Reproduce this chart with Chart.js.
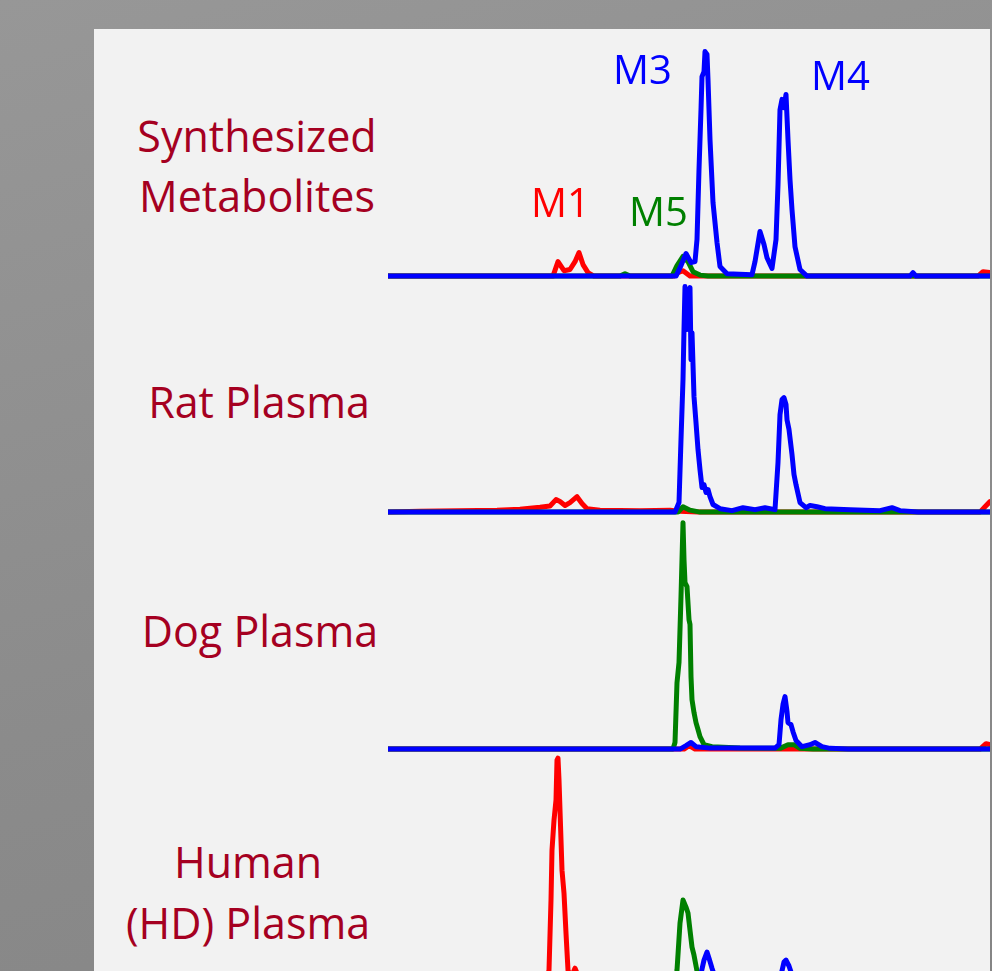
<!DOCTYPE html>
<html>
<head>
<meta charset="utf-8">
<title>Metabolite chromatograms</title>
<script src="https://cdn.jsdelivr.net/npm/chart.js@4.4.1/dist/chart.umd.min.js"></script>
<style>
    html, body { margin: 0; padding: 0; width: 992px; height: 971px; overflow: hidden; }
    body { position: relative; background: linear-gradient(165deg, #979797 0%, #8b8b8b 60%, #858585 100%); font-family: "Open Sans", sans-serif; }
    #panel { position: absolute; left: 94px; top: 29px; width: 896px; height: 960px; background: #f2f2f2; }
    canvas { position: absolute; left: 388px; }
    .sample { position: absolute; width: 274px; text-align: center; color: #a50021; font-size: 43px; line-height: 60px; white-space: nowrap; }
    .peak { position: absolute; font-size: 40px; line-height: 40px; white-space: nowrap; }
</style>
</head>
<body>
<div id="panel"></div>

<script>
// retention time (min) vs relative intensity, one array per trace
const synthRed = [[0,0],[3.30,0],[3.40,5.9],[3.52,2.2],[3.64,2.7],[3.74,5.9],[3.82,9.6],[3.90,4.7],[4.00,1.4],[4.12,0],[5.72,0],[5.80,1.4],[5.90,2.2],[6.04,0],[11.80,0],[11.90,1.8],[12.04,1.5]];
const synthGreen = [[0,0],[4.64,0],[4.74,1.0],[4.84,0],[5.68,0],[5.78,4.3],[5.90,8.0],[6.00,5.9],[6.10,1.8],[6.24,0.4],[6.40,0],[12.04,0]];
const synthBlue = [[0,0],[5.76,0],[5.86,4.3],[5.96,9.2],[6.06,5.5],[6.14,5.9],[6.18,14.9],[6.22,43.5],[6.26,67.9],[6.28,81.4],[6.32,83.4],[6.34,91.6],[6.38,90.4],[6.40,80.2],[6.44,55.7],[6.50,30.0],[6.58,13.7],[6.64,3.9],[6.78,1.0],[7.28,0.6],[7.34,5.9],[7.44,18.2],[7.52,12.9],[7.58,7.5],[7.68,3.1],[7.76,14.9],[7.80,37.3],[7.84,67.9],[7.88,72.1],[7.92,68.7],[7.96,74.1],[8.00,55.7],[8.04,39.4],[8.08,27.1],[8.14,12.0],[8.24,2.7],[8.38,0],[10.44,0],[10.50,1.4],[10.56,0],[12.04,0]];

const ratRed = [[0,0],[0.64,0.3],[2.18,0.8],[2.64,1.2],[3.04,2.0],[3.24,2.5],[3.36,5.1],[3.44,4.3],[3.54,2.7],[3.64,3.9],[3.78,6.3],[3.88,3.5],[3.98,1.4],[4.24,0.8],[5.04,0.6],[5.64,0.8],[5.84,0.3],[6.20,0],[11.84,0],[11.94,2.2],[12.04,4.3]];
const ratGreen = [[0,0],[5.80,0],[5.90,2.2],[6.04,0.8],[6.24,0],[12.04,0]];
const ratBlue = [[0,0],[5.74,0],[5.82,3.9],[5.86,29.6],[5.90,54.1],[5.92,74.5],[5.94,92.0],[5.98,74.5],[6.02,90.0],[6.04,91.6],[6.06,62.2],[6.08,73.2],[6.12,47.1],[6.16,36.5],[6.20,25.5],[6.24,17.3],[6.28,10.0],[6.32,11.2],[6.36,8.0],[6.40,9.2],[6.44,6.3],[6.50,3.1],[6.64,1.4],[6.88,0.6],[7.10,1.8],[7.34,1.0],[7.54,1.8],[7.74,1.0],[7.80,20.2],[7.84,39.8],[7.88,45.9],[7.92,46.7],[7.96,43.9],[7.98,37.7],[8.02,33.7],[8.08,23.5],[8.12,15.3],[8.16,11.2],[8.24,3.9],[8.36,1.8],[8.44,2.7],[8.58,2.2],[8.74,1.4],[9.24,1.0],[9.84,0.6],[10.08,1.8],[10.24,0.6],[10.60,0],[12.04,0]];

const dogRed = [[0,0],[5.92,0],[6.02,1.4],[6.14,0],[11.84,0],[11.96,2.2],[12.04,1.8]];
const dogGreen = [[0,0],[5.70,0],[5.74,2.7],[5.78,27.1],[5.82,35.3],[5.86,62.2],[5.88,77.3],[5.90,92.4],[5.92,77.3],[5.94,67.9],[5.98,66.3],[6.02,52.8],[6.04,50.8],[6.06,29.6],[6.08,20.2],[6.12,14.9],[6.16,10.8],[6.20,8.0],[6.24,5.1],[6.32,1.8],[6.48,1.0],[7.04,0.4],[7.84,0.3],[8.00,1.8],[8.12,1.8],[8.24,0.3],[8.50,0],[12.04,0]];
const dogBlue = [[0,0],[5.84,0],[5.96,1.4],[6.06,2.7],[6.16,1.0],[6.44,0.4],[7.74,0.4],[7.82,1.8],[7.86,12.0],[7.90,18.2],[7.94,21.4],[7.98,15.3],[8.00,10.8],[8.06,10.0],[8.10,7.1],[8.16,3.5],[8.28,1.0],[8.44,1.8],[8.54,2.7],[8.68,1.0],[8.84,0.3],[9.20,0],[12.04,0]];

const humanRed = [[0,0],[3.14,0],[3.22,6.5],[3.26,35.1],[3.28,55.5],[3.32,67.7],[3.36,75.9],[3.38,92.2],[3.40,93.0],[3.42,84.1],[3.44,71.8],[3.48,47.3],[3.52,37.9],[3.56,21.6],[3.60,6.5],[3.66,3.3],[3.74,7.3],[3.84,2.4],[4.04,0.5],[4.40,0],[12.04,0]];
const humanGreen = [[0,0],[5.74,0],[5.78,6.5],[5.84,25.7],[5.90,35.1],[5.96,32.2],[6.00,29.8],[6.04,22.8],[6.08,15.9],[6.12,12.6],[6.18,6.1],[6.24,2.4],[6.34,0.5],[6.60,0],[12.04,0]];
const humanBlue = [[0,0],[6.14,0],[6.24,3.3],[6.32,10.6],[6.38,13.9],[6.42,11.4],[6.48,7.3],[6.56,2.4],[6.68,0.5],[7.80,0.5],[7.86,4.5],[7.92,9.8],[7.96,10.6],[8.02,8.2],[8.10,3.3],[8.24,0.5],[8.50,0],[12.04,0]];

const sampleNames = [['Synthesized', 'Metabolites'], ['Rat Plasma'], ['Dog Plasma'], ['Human', '(HD) Plasma']];
const peakNames = ['M1', 'M5', 'M3', 'M4'];

// layout
const panelTops = [31, 267, 504, 741];
const sampleBoxes = [{ left: 120, top: 106 }, { left: 122, top: 372 }, { left: 123, top: 601 }, { left: 111, top: 831, lh: 61 }];
const peakBoxes = [{ left: 531, top: 182, color: '#ff0000' }, { left: 629, top: 191, color: '#008000' }, { left: 613, top: 49, color: '#0000ff' }, { left: 811, top: 55, color: '#0000ff' }];

const traces = [
    [synthBlue, synthGreen, synthRed],
    [ratBlue, ratGreen, ratRed],
    [dogBlue, dogGreen, dogRed],
    [humanBlue, humanGreen, humanRed]
];
const colors = ['#0000ff', '#008000', '#ff0000'];

sampleNames.forEach((lines, i) => {
    const div = document.createElement('div');
    div.className = 'sample';
    div.style.left = sampleBoxes[i].left + 'px';
    div.style.top = sampleBoxes[i].top + 'px';
    if (sampleBoxes[i].lh) div.style.lineHeight = sampleBoxes[i].lh + 'px';
    div.innerHTML = lines.join('<br>');
    document.body.appendChild(div);
});

traces.forEach((set, i) => {
    const canvas = document.createElement('canvas');
    canvas.width = 602;
    canvas.height = 250;
    canvas.style.top = panelTops[i] + 'px';
    document.body.appendChild(canvas);

    new Chart(canvas.getContext('2d'), {
        type: 'line',
        data: {
            datasets: set.map((pts, k) => ({
                data: pts.map(p => ({ x: p[0], y: p[1] })),
                borderColor: colors[k],
                borderWidth: 5,
                pointRadius: 0,
                tension: 0,
                fill: false,
                borderJoinStyle: 'round',
                borderCapStyle: 'round'
            }))
        },
        options: {
            responsive: false,
            animation: false,
            layout: { padding: 0 },
            plugins: { legend: { display: false }, tooltip: { enabled: false } },
            scales: {
                x: { type: 'linear', min: 0, max: 12.04, display: false },
                y: { min: -2, max: 100, display: false }
            }
        }
    });
});

peakNames.forEach((name, i) => {
    const div = document.createElement('div');
    div.className = 'peak';
    div.style.left = peakBoxes[i].left + 'px';
    div.style.top = peakBoxes[i].top + 'px';
    div.style.color = peakBoxes[i].color;
    div.textContent = name;
    document.body.appendChild(div);
});
</script>
</body>
</html>
